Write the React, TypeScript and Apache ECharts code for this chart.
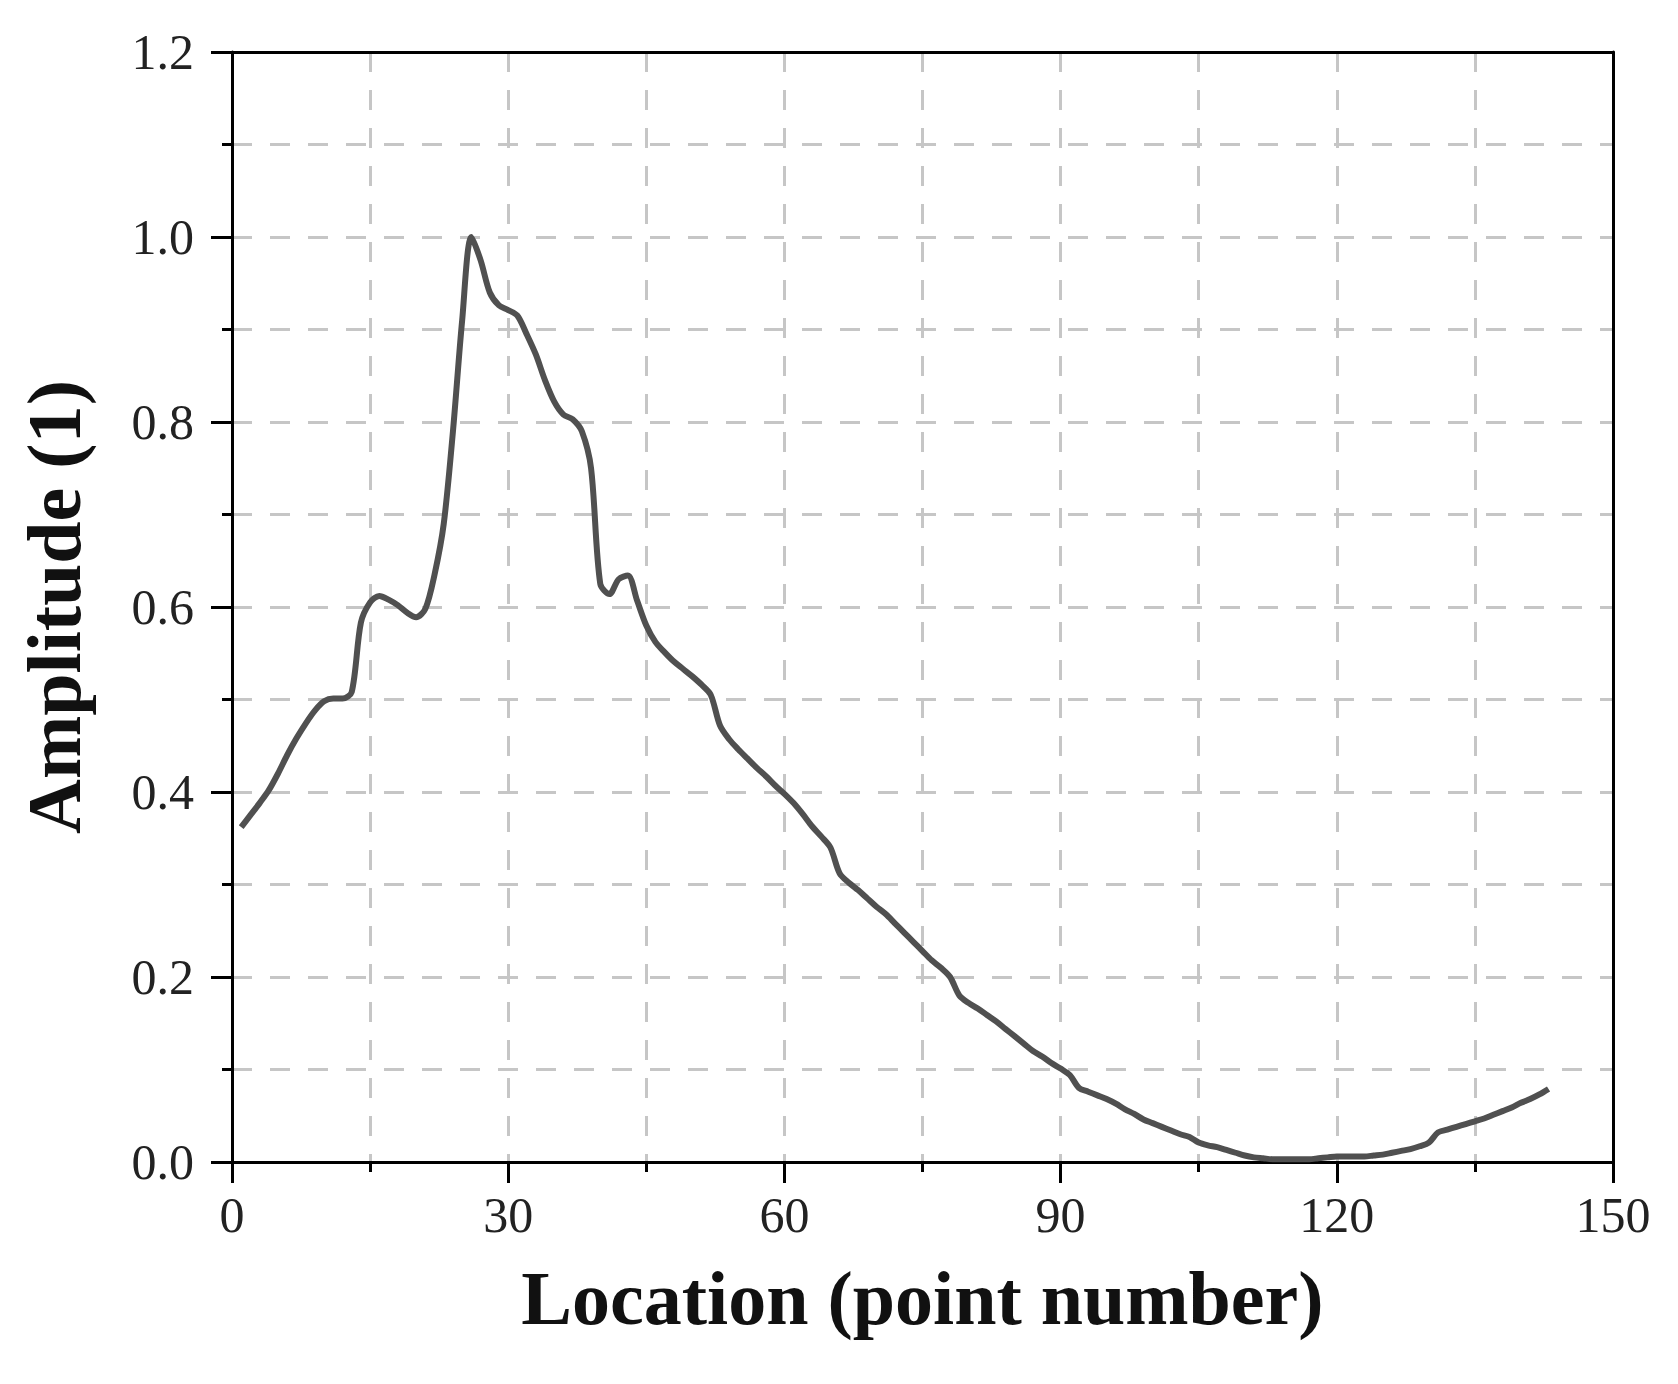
import React, { useEffect, useRef } from "react";
import * as echarts from "echarts";

const locations = [
  1, 2, 3, 4, 5, 6, 7, 8, 9, 10, 11, 12, 13, 14, 15, 16, 17, 18, 19, 20,
  21, 22, 23, 24, 25, 26, 27, 28, 29, 30, 31, 32, 33, 34, 35, 36, 37, 38, 39, 40,
  41, 42, 43, 44, 45, 46, 47, 48, 49, 50, 51, 52, 53, 54, 55, 56, 57, 58, 59, 60,
  61, 62, 63, 64, 65, 66, 67, 68, 69, 70, 71, 72, 73, 74, 75, 76, 77, 78, 79, 80,
  81, 82, 83, 84, 85, 86, 87, 88, 89, 90, 91, 92, 93, 94, 95, 96, 97, 98, 99, 100,
  101, 102, 103, 104, 105, 106, 107, 108, 109, 110, 111, 112, 113, 114, 115, 116, 117, 118, 119, 120,
  121, 122, 123, 124, 125, 126, 127, 128, 129, 130, 131, 132, 133, 134, 135, 136, 137, 138, 139, 140,
  141, 142, 143,
];

const amplitudes = [
  0.362, 0.375, 0.388, 0.402, 0.42, 0.44, 0.458, 0.474, 0.488, 0.498,
  0.501, 0.501, 0.508, 0.583, 0.605, 0.612, 0.608, 0.602, 0.594, 0.589,
  0.598, 0.635, 0.69, 0.79, 0.91, 1.0, 0.975, 0.94, 0.926, 0.921,
  0.915, 0.895, 0.873, 0.845, 0.822, 0.808, 0.803, 0.79, 0.75, 0.625,
  0.614, 0.63, 0.634, 0.607, 0.58, 0.562, 0.551, 0.541, 0.533, 0.525,
  0.516, 0.505, 0.472, 0.457, 0.446, 0.436, 0.426, 0.417, 0.407, 0.398,
  0.388, 0.376, 0.363, 0.352, 0.34, 0.312, 0.302, 0.294, 0.285, 0.276,
  0.268, 0.258, 0.248, 0.238, 0.228, 0.218, 0.21, 0.2, 0.18, 0.172,
  0.166, 0.159, 0.152, 0.144, 0.136, 0.128, 0.12, 0.114, 0.107, 0.101,
  0.094, 0.08, 0.076, 0.072, 0.068, 0.063, 0.057, 0.052, 0.046, 0.042,
  0.038, 0.034, 0.03, 0.027, 0.021, 0.018, 0.016, 0.013, 0.01, 0.007,
  0.005, 0.004, 0.003, 0.003, 0.003, 0.003, 0.003, 0.004, 0.005, 0.006,
  0.006, 0.006, 0.006, 0.007, 0.008, 0.01, 0.012, 0.014, 0.017, 0.021,
  0.032, 0.035, 0.038, 0.041, 0.044, 0.047, 0.051, 0.055, 0.059, 0.064,
  0.068, 0.073, 0.079,
];

const xAxisName = "Location (point number)";
const yAxisName = "Amplitude (1)";

const FONT = "'Liberation Serif', 'DejaVu Serif', serif";

export default function App() {
  const ref = useRef<HTMLDivElement>(null);

  useEffect(() => {
    if (!ref.current) return;
    const chart = echarts.init(ref.current, undefined, { renderer: "svg" });
    const gridLine = {
      show: true,
      lineStyle: { color: "#c6c6c6", width: 3, type: [20, 18] as any },
    };
    const tickStyle = { color: "#000", width: 3 };
    chart.setOption({
      animation: false,
      backgroundColor: "#ffffff",
      grid: { left: 232, top: 52, right: 65, bottom: 222, containLabel: false },
      xAxis: [
        {
          type: "value",
          min: 0,
          max: 150,
          interval: 30,
          name: xAxisName,
          nameLocation: "middle",
          nameGap: 98,
          nameTextStyle: { fontFamily: FONT, fontWeight: "bold", fontSize: 76, color: "#111" },
          axisLine: { show: true, onZero: false, lineStyle: { color: "#000", width: 3 } },
          axisTick: { show: true, inside: false, length: 21, lineStyle: tickStyle },
          minorTick: { show: true, splitNumber: 2, length: 10, lineStyle: tickStyle },
          axisLabel: { fontFamily: FONT, fontSize: 50, color: "#222", margin: 28 },
          splitLine: gridLine,
          minorSplitLine: gridLine,
        },
        {
          type: "value",
          position: "top",
          min: 0,
          max: 150,
          axisLine: { show: true, onZero: false, lineStyle: { color: "#000", width: 3 } },
          axisTick: { show: false },
          axisLabel: { show: false },
          splitLine: { show: false },
        },
      ],
      yAxis: [
        {
          type: "value",
          min: 0,
          max: 1.2,
          interval: 0.2,
          name: yAxisName,
          nameLocation: "middle",
          nameGap: 140,
          nameTextStyle: { fontFamily: FONT, fontWeight: "bold", fontSize: 76, color: "#111" },
          axisLine: { show: true, onZero: false, lineStyle: { color: "#000", width: 3 } },
          axisTick: { show: true, inside: false, length: 21, lineStyle: tickStyle },
          minorTick: { show: true, splitNumber: 2, length: 10, lineStyle: tickStyle },
          axisLabel: {
            fontFamily: FONT,
            fontSize: 50,
            color: "#222",
            margin: 38,
            formatter: (v: number) => v.toFixed(1),
          },
          splitLine: gridLine,
          minorSplitLine: gridLine,
        },
        {
          type: "value",
          position: "right",
          min: 0,
          max: 1.2,
          axisLine: { show: true, onZero: false, lineStyle: { color: "#000", width: 3 } },
          axisTick: { show: false },
          axisLabel: { show: false },
          splitLine: { show: false },
        },
      ],
      series: [
        {
          type: "line",
          xAxisIndex: 0,
          yAxisIndex: 0,
          data: locations.map((x, i) => [x, amplitudes[i]]),
          showSymbol: false,
          symbol: "none",
          smooth: 0.3,
          lineStyle: { color: "#505050", width: 6 },
          z: 5,
        },
      ],
    });
    return () => chart.dispose();
  }, []);

  return (
    <div
      ref={ref}
      style={{ position: "fixed", left: 0, top: 0, width: 1678, height: 1384, background: "#fff" }}
    />
  );
}
